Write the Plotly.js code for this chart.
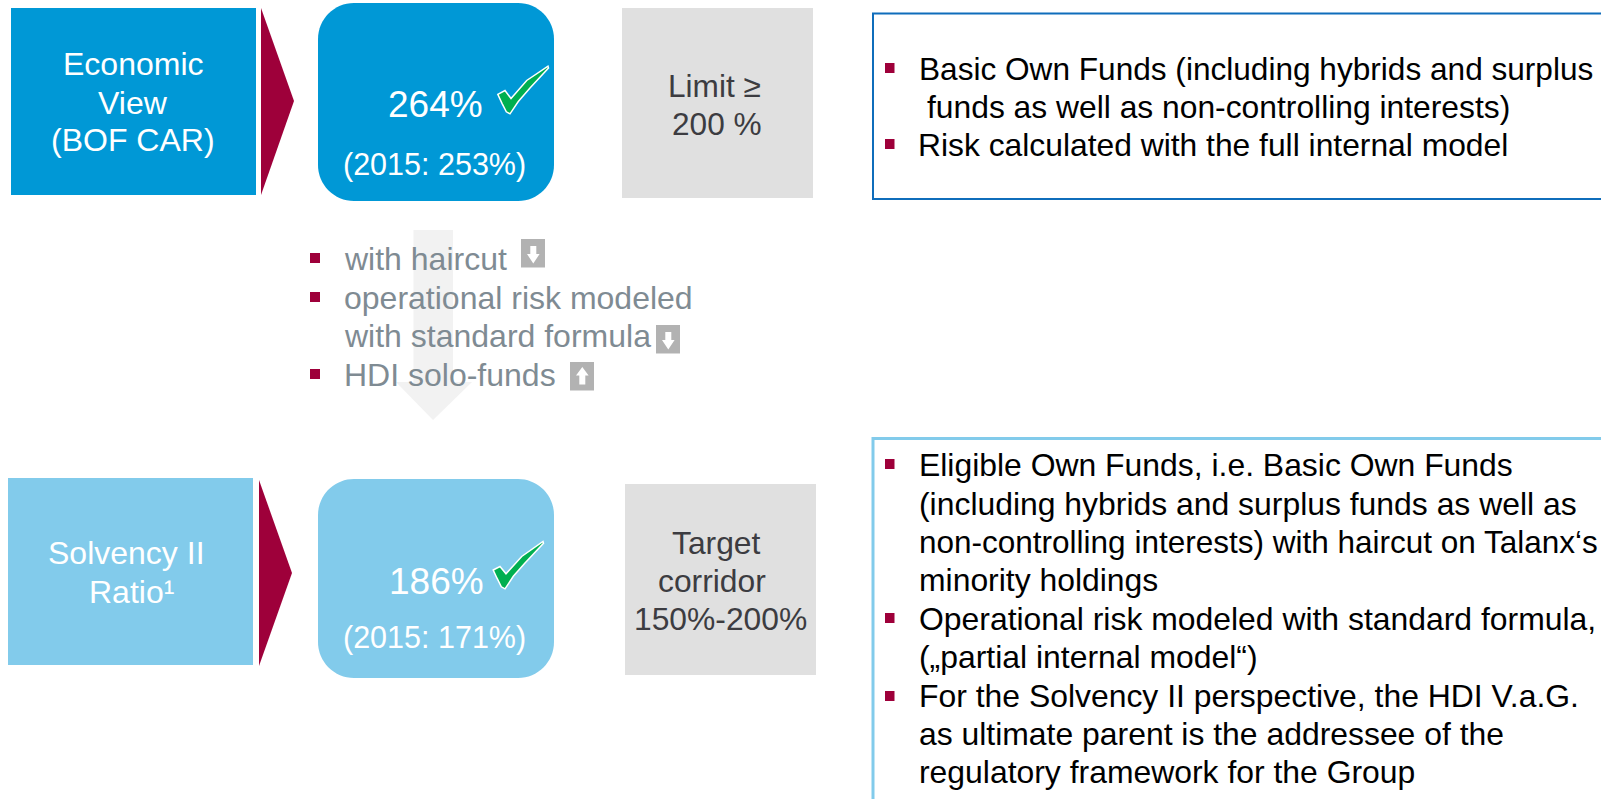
<!DOCTYPE html>
<html>
<head>
<meta charset="utf-8">
<script src="https://cdn.plot.ly/plotly-3.0.1.min.js"></script>
<style>html,body{margin:0;padding:0;background:#fff;overflow:hidden}#c{width:1601px;height:799px}</style>
</head>
<body>
<div id="c"></div>
<script>
// ---- content ----
const viewLabels = [["Economic", "View", "(BOF CAR)"], ["Solvency II", "Ratio¹"]];
const ratioYears = [2016, 2015];
const economicRatio = [264, 253];
const solvencyRatio = [186, 171];
const limitLines = ["Limit ≥", "200 %"];
const targetLines = ["Target", "corridor", "150%-200%"];
const bridgeLines = ["with haircut", "operational risk modeled", "with standard formula", "HDI solo-funds"];
const economicNotes = ["Basic Own Funds (including hybrids and surplus", "funds as well as non-controlling interests)", "Risk calculated with the full internal model"];
const solvencyNotes = ["Eligible Own Funds, i.e. Basic Own Funds", "(including hybrids and surplus funds as well as", "non-controlling interests) with haircut on Talanx‘s", "minority holdings", "Operational risk modeled with standard formula,", "(„partial internal model“)", "For the Solvency II perspective, the HDI V.a.G.", "as ultimate parent is the addressee of the", "regulatory framework for the Group"];

// ---- palette ----
const BLUE = "#0098D6", LIGHT = "#82CBEB", WINE = "#9E003A", GREY = "#E0E0E0", GREEN = "#00AF50";
const BRIDGE = "#7F8B93", DARK = "#3C3C41", WHITE = "#FFFFFF";

// ---- helpers ----
const shapes = [];
const rect = (x0, y0, x1, y1, fill) => shapes.push({type: "rect", xref: "x", yref: "y", x0, y0, x1, y1, fillcolor: fill, line: {width: 0}});
const poly = (pts, fill, lw, lc) => shapes.push({type: "path", xref: "x", yref: "y", path: "M" + pts.map(p => p.join(",")).join(" L") + " Z", fillcolor: fill, line: {width: lw || 0, color: lc || fill}});
const round = (x0, y0, x1, y1, r, fill) => {
  const k = r * 0.448; // distance from the corner to the Bezier handles of a circular arc
  shapes.push({type: "path", xref: "x", yref: "y", fillcolor: fill, line: {width: 0},
    path: `M${x0 + r},${y0} L${x1 - r},${y0} C${x1 - k},${y0} ${x1},${y0 + k} ${x1},${y0 + r} L${x1},${y1 - r} C${x1},${y1 - k} ${x1 - k},${y1} ${x1 - r},${y1} L${x0 + r},${y1} C${x0 + k},${y1} ${x0},${y1 - k} ${x0},${y1 - r} L${x0},${y0 + r} C${x0},${y0 + k} ${x0 + k},${y0} ${x0 + r},${y0} Z`});
};
const annotations = [];
const BASE = 0.265; // distance of the line box bottom below the baseline, in em
const txt = (text, x, base, size, color, anchor) => annotations.push({text, x, y: base, xref: "x", yref: "y", xanchor: anchor || "left", yanchor: "bottom",
  yshift: -size * BASE, showarrow: false, borderpad: 0, borderwidth: 0, align: anchor === "center" ? "center" : "left", font: {family: "Liberation Sans, Arial, sans-serif", size, color}});
const bullet = (x, y) => rect(x, y, x + 10, y + 10, WINE);
const updown = (x, y, down) => {
  rect(x, y, x + 24, y + 28.5, "#B2B2B2");
  const cx = x + 12.3;
  if (down) poly([[cx - 3, y + 7], [cx + 3, y + 7], [cx + 3, y + 15], [cx + 6.3, y + 15], [cx, y + 24.5], [cx - 6.3, y + 15], [cx - 3, y + 15]], WHITE);
  else poly([[cx - 3, y + 22.5], [cx + 3, y + 22.5], [cx + 3, y + 13.5], [cx + 6.3, y + 13.5], [cx, y + 5], [cx - 6.3, y + 13.5], [cx - 3, y + 13.5]], WHITE);
};

// ---- bridge arrow ----
poly([[413.5, 230], [453, 230], [453, 382], [472, 382], [433, 420], [396, 382], [413.5, 382]], "#F2F2F2");

// ---- top row ----
rect(11, 8, 256, 195, BLUE);
poly([[261, 8], [294, 101], [261, 195]], WINE);
round(318, 3, 554, 201, 36, BLUE);
rect(622, 8, 813, 198, GREY);
poly([[497.8, 94.3], [505, 90.5], [511, 98.5], [526.7, 80.5], [548, 66.2], [548.5, 68], [530, 88], [518.3, 101.5], [510, 113.8], [506.3, 111.8], [502, 103.3]], GREEN, 1.5, WHITE);
shapes.push({type: "rect", xref: "x", yref: "y", x0: 873, y0: 13.5, x1: 1640, y1: 199, fillcolor: "rgba(0,0,0,0)", line: {width: 2, color: "#0F6DBB"}});

// ---- bottom row ----
rect(8, 478, 253, 665, LIGHT);
poly([[259, 480], [292, 573], [259, 666]], WINE);
round(318, 479, 554, 678, 36, LIGHT);
rect(625, 484, 816, 675, GREY);
poly([[493.2, 570], [500, 566.5], [506, 573.8], [521.7, 556.5], [543, 541.5], [543.5, 543.3], [525, 563], [513.3, 576.3], [505, 588.8], [501.3, 586.8], [497, 578.2]], GREEN, 1.5, WHITE);
shapes.push({type: "rect", xref: "x", yref: "y", x0: 873, y0: 438.5, x1: 1640, y1: 830, fillcolor: "rgba(0,0,0,0)", line: {width: 3, color: LIGHT}});

// ---- bridge list ----
[253, 292, 369].forEach(y => bullet(310, y));
updown(521, 239, true); updown(656, 325, true); updown(570, 362, false);
const bridgeBase = [269, 308, 346, 385];
bridgeLines.forEach((t, i) => txt(t, 343.5, bridgeBase[i], 32, BRIDGE));

// ---- texts of the left cards ----
[74, 112.5, 150].forEach((b, i) => txt(viewLabels[0][i], 133, b, 32, WHITE, "center"));
txt(viewLabels[1][0], 126, 563, 32, WHITE, "center");
txt(viewLabels[1][1], 88.5, 602, 32, WHITE);
txt(economicRatio[0] + "%", 388, 115, 37, WHITE);
txt(`(${ratioYears[1]}: ${economicRatio[1]}%)`, 343, 174, 30.5, WHITE);
txt(solvencyRatio[0] + "%", 389, 592, 37, WHITE);
txt(`(${ratioYears[1]}: ${solvencyRatio[1]}%)`, 343, 647, 30.5, WHITE);
txt(limitLines[0], 667.5, 95.5, 31.6, DARK);
txt(limitLines[1], 672, 133.5, 31.6, DARK);
txt(targetLines[0], 716, 553, 31.8, DARK, "center");
txt(targetLines[1], 712, 591, 31.8, DARK, "center");
txt(targetLines[2], 634, 629, 31.8, DARK);

// ---- notes ----
[63, 139].forEach(y => rect(885, y, 894.5, y + 10, WINE));
[459, 613, 691].forEach(y => rect(885, y, 894.5, y + 10, WINE));
const ecoX = [918.5, 927, 918], ecoBase = [79, 117, 155], ecoSize = [31.6, 31.8, 31.8];
economicNotes.forEach((t, i) => txt(t, ecoX[i], ecoBase[i], ecoSize[i], "#000000"));
const solBase = [475, 514, 552, 590, 629, 667, 706, 744, 782];
const solSize = [31.9, 31.9, 31.5, 31.9, 31.9, 31.9, 31.9, 31.9, 31.9];
solvencyNotes.forEach((t, i) => txt(t, 919, solBase[i], solSize[i], "#000000"));

const axis = {visible: false, fixedrange: true, showgrid: false, zeroline: false};
Plotly.newPlot("c", [], {
  width: 1601, height: 799,
  margin: {l: 0, r: 0, t: 0, b: 0, pad: 0},
  paper_bgcolor: "#FFFFFF", plot_bgcolor: "#FFFFFF", showlegend: false,
  xaxis: Object.assign({range: [0, 1601]}, axis),
  yaxis: Object.assign({range: [799, 0]}, axis),
  shapes, annotations
}, {displayModeBar: false, staticPlot: true});
</script>
</body>
</html>
